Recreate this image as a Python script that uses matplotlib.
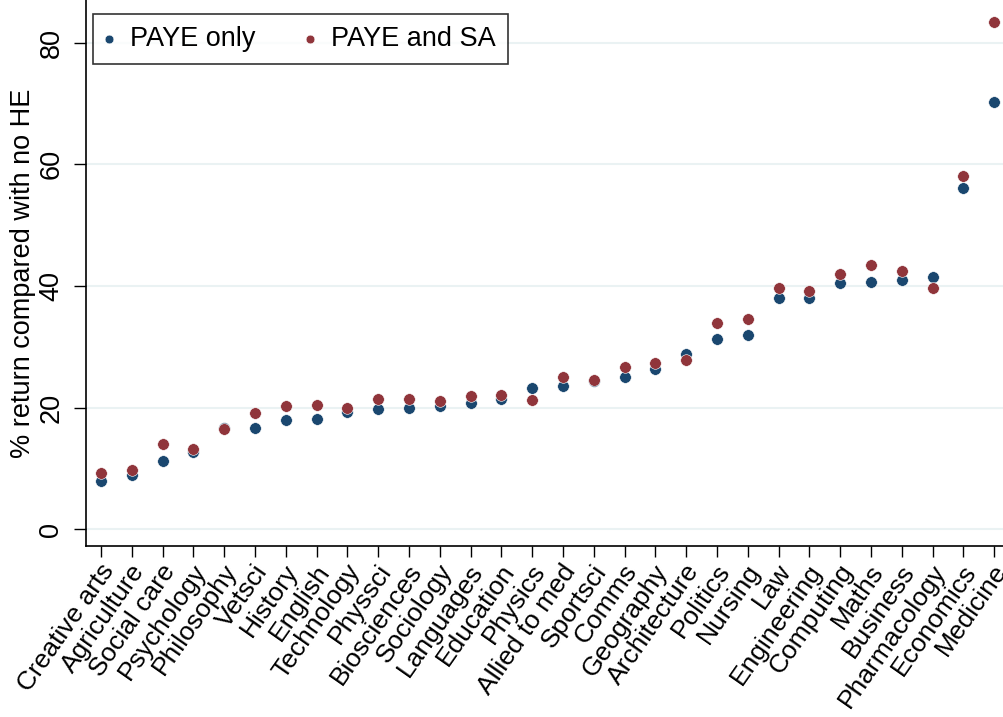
import matplotlib
matplotlib.use("Agg")
import matplotlib.pyplot as plt
from matplotlib.transforms import ScaledTranslation

plt.rcParams['font.family'] = ['Liberation Sans', 'DejaVu Sans']

# Subjects, ordered by PAYE-only return
subjects = ["Creative arts", "Agriculture", "Social care", "Psychology", "Philosophy",
            "Vetsci", "History", "English", "Technology", "Physsci",
            "Biosciences", "Sociology", "Languages", "Education", "Physics",
            "Allied to med", "Sportsci", "Comms", "Geography", "Architecture",
            "Politics", "Nursing", "Law", "Engineering", "Computing",
            "Maths", "Business", "Pharmacology", "Economics", "Medicine"]

# % return compared with no HE
paye_only = [7.9, 8.9, 11.2, 12.7, 16.7, 16.7, 18.0, 18.2, 19.3, 19.7,
             19.9, 20.2, 20.8, 21.4, 23.2, 23.6, 24.3, 25.0, 26.4, 28.8,
             31.2, 31.9, 38.0, 38.0, 40.4, 40.7, 41.0, 41.4, 56.1, 70.2]
paye_and_sa = [9.3, 9.7, 14.0, 13.2, 16.4, 19.1, 20.3, 20.4, 19.9, 21.4,
               21.4, 21.1, 21.9, 22.0, 21.3, 25.0, 24.5, 26.6, 27.4, 27.9,
               33.9, 34.5, 39.6, 39.1, 42.0, 43.4, 42.5, 39.7, 58.0, 83.4]

blue = "#1a476f"
red = "#90353b"

fig = plt.figure(figsize=(10.04, 7.17), dpi=100)
ax = fig.add_axes([86 / 1004, 1 - 546 / 717, 1 - 86 / 1004, 546 / 717])

x = list(range(len(subjects)))
ax.scatter(x, paye_only, s=70, color=blue, edgecolors="white", linewidths=0.4,
           label="PAYE only", zorder=3)
ax.scatter(x, paye_and_sa, s=70, color=red, edgecolors="white", linewidths=0.4,
           label="PAYE and SA", zorder=4)

ax.set_xlim(-0.487, 29.32)
ax.set_ylim(-2.75, 87.0)
ax.set_yticks([0, 20, 40, 60, 80])
ax.yaxis.grid(True, color="#eaf2f3", linewidth=1.5, zorder=0)
ax.set_axisbelow(True)

ax.set_xticks(x)
ax.set_xticklabels(subjects, rotation=55, ha="right", rotation_mode="anchor", fontsize=19)
ax.tick_params(axis="x", direction="out", length=8, width=1, pad=2)
ax.tick_params(axis="y", direction="out", length=8.5, width=1, labelsize=19.5, pad=7)
# small nudge so the last label stays inside the canvas
shift = ScaledTranslation(-0.02, 0, fig.dpi_scale_trans)
for lab in ax.get_xticklabels():
    lab.set_transform(lab.get_transform() + shift)
for lab in ax.get_yticklabels():
    lab.set_rotation(90)
    lab.set_va("center")

ax.set_ylabel("% return compared with no HE", fontsize=19.5, labelpad=2)

for side in ["top", "right"]:
    ax.spines[side].set_visible(False)
for side in ["left", "bottom"]:
    ax.spines[side].set_linewidth(1.2)

leg = ax.legend(loc="upper left", bbox_to_anchor=(93 / 1004, 1 - 14 / 717),
                bbox_transform=fig.transFigure, ncol=2, fontsize=19.5,
                frameon=True, fancybox=False, markerscale=0.75,
                handletextpad=0.63, columnspacing=1.83, borderpad=0.45,
                handlelength=0.3, borderaxespad=0)
leg.get_frame().set_edgecolor("black")
leg.get_frame().set_linewidth(1.2)

fig.savefig("out.png", dpi=100)
